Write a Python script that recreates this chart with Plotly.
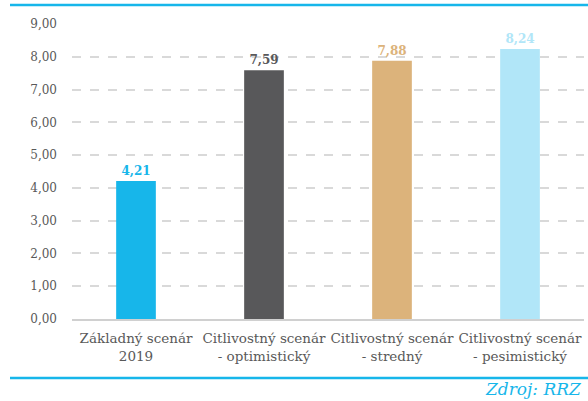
import plotly.graph_objects as go

# Scenario categories and values
categories = ["Základný scenár<br>2019", "Citlivostný scenár<br>- optimistický",
              "Citlivostný scenár<br>- stredný", "Citlivostný scenár<br>- pesimistický"]
values = [4.21, 7.59, 7.88, 8.24]
colors = ["#17b6ea", "#58585a", "#dcb37b", "#b1e6f8"]
tick_vals = [0, 1, 2, 3, 4, 5, 6, 7, 8, 9]

FONT = "DejaVu Serif, Liberation Serif, serif"
W, H = 588, 401
ML, MR, MT, MB = 72, 4, 24, 82
pw, ph = W - ML - MR, H - MT - MB

def px_x(x):
    return (x - ML) / pw

def px_y(y):
    return (H - MB - y) / ph

fig = go.Figure(go.Bar(
    x=categories, y=values, marker_color=colors, marker_line_width=0,
    width=0.31,
    text=[f"{v:.2f}".replace(".", ",") for v in values],
    textposition="outside", cliponaxis=False,
    textfont=dict(family=FONT, size=12, color=colors, weight="bold"),
))

fig.update_layout(
    width=W, height=H, margin=dict(l=ML, r=MR, t=MT, b=MB),
    paper_bgcolor="white", plot_bgcolor="white",
    separators=", ", showlegend=False, bargap=0.69,
    font=dict(family=FONT, color="#595959"),
)
fig.update_xaxes(showline=True, linecolor="#d0d0d0", linewidth=1.5,
                 tickfont=dict(family=FONT, size=13.5, color="#595959"), ticks="",
                 tickangle=0, ticklabelstandoff=6)
fig.update_yaxes(range=[0, 9], tickvals=tick_vals, tickformat=".2f",
                 showgrid=True, gridcolor="#d9d9d9", griddash="dash", gridwidth=1.5,
                 zeroline=False, ticks="", ticklabelstandoff=14,
                 tickfont=dict(family=FONT, size=12, color="#595959"))

# Frame rules above and below the chart
for y in (5, 378):
    fig.add_shape(type="line", xref="paper", yref="paper",
                  x0=px_x(10), x1=px_x(590), y0=px_y(y), y1=px_y(y),
                  line=dict(color="#17b6ea", width=2.5))

fig.add_annotation(text="<i>Zdroj: RRZ</i>", xref="paper", yref="paper",
                   x=px_x(584), y=px_y(389), xanchor="right", yanchor="middle",
                   showarrow=False, font=dict(family=FONT, size=17, color="#17b6ea"))

fig.write_html("out.html")
